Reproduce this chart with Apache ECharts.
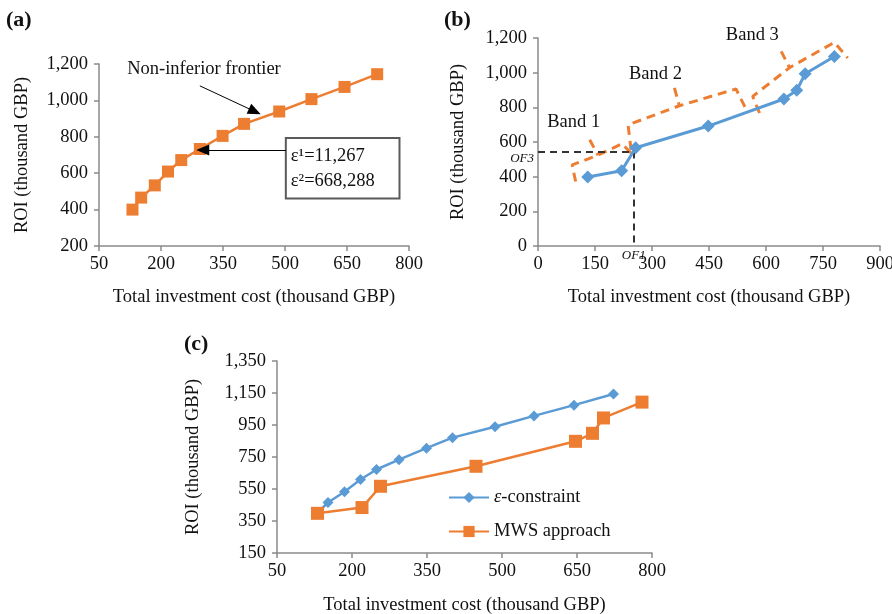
<!DOCTYPE html>
<html><head><meta charset="utf-8">
<script src="https://cdn.jsdelivr.net/npm/echarts@6/dist/echarts.min.js"></script>
<style>html,body{margin:0;padding:0;background:#fff}#c{width:892px;height:614px}</style>
</head><body><div id="c"></div>
<script>
// ---- data (thousand GBP) ----
const epsCost = [131, 152, 185, 217, 249, 294, 349, 401, 486, 564, 644, 723];
const epsROI  = [400, 466, 533, 609, 672, 733, 805, 871, 939, 1007, 1074, 1144];
const mwsCost = [131, 220, 257, 448, 647, 681, 703, 780];
const mwsROI  = [398, 434, 567, 692, 848, 898, 994, 1093];

// axis ticks
const xTicksA = [50, 200, 350, 500, 650, 800];
const yTicksA = [200, 400, 600, 800, 1000, 1200];
const xTicksB = [0, 150, 300, 450, 600, 750, 900];
const yTicksB = [0, 200, 400, 600, 800, 1000, 1200];
const xTicksC = [50, 200, 350, 500, 650, 800];
const yTicksC = [150, 350, 550, 750, 950, 1150, 1350];

// annotations (data coordinates)
const OF1 = 252, OF3 = 545;
const band1 = [[99, 372], [90, 468], [158, 524], [221, 590], [245, 536]];
const band1Notch = [[136, 613], [158, 524]];
const band2 = [[245, 555], [237, 699], [372, 809], [521, 906], [546, 796]];
const band2Notch = [[359, 912], [372, 809]];
const band3 = [[583, 767], [565, 863], [662, 1029], [780, 1175], [815, 1085]];
const band3Notch = [[640, 1123], [662, 1029]];
const bandLabels = ['Band 1', 'Band 2', 'Band 3'];
const bandLabelPos = [[94, 717], [309, 994], [564, 1214]];
const frontierLabel = 'Non-inferior frontier';
const frontierLabelPos = [304, 1173];
const frontierArrow = [[294, 1080], [427, 939]];
const boxTL = [502, 794], boxBR = [777, 461];
const boxArrow = [[502, 728], [301, 728]];
const boxText = ['ε¹=11,267', 'ε²=668,288'];

const F = 'Liberation Serif';
const FS = 18.5;
const ORANGE = '#ED7D31', BLUE = '#5B9BD5', AXIS = '#8a8a8a';
const zip = (a, b) => a.map((v, i) => [v, b[i]]);

function xAxis(gi, min, max, ticks, name, nameGap) {
  return {
    type: 'value', gridIndex: gi, min, max,
    name, nameLocation: 'middle', nameGap,
    nameTextStyle: { fontFamily: F, fontSize: FS, color: '#111' },
    axisLine: { show: true, onZero: false, lineStyle: { color: AXIS, width: 1.5 } },
    axisTick: { show: true, length: 5, customValues: ticks, lineStyle: { color: AXIS, width: 1.5 } },
    axisLabel: { customValues: ticks, margin: 9, fontFamily: F, fontSize: FS, color: '#111' },
    splitLine: { show: false }
  };
}
function yAxis(gi, min, max, ticks, name, nameGap) {
  return {
    type: 'value', gridIndex: gi, min, max,
    name, nameLocation: 'middle', nameGap, nameRotate: 90,
    nameTextStyle: { fontFamily: F, fontSize: FS, color: '#111' },
    axisLine: { show: true, onZero: false, lineStyle: { color: AXIS, width: 1.5 } },
    axisTick: { show: true, length: 5, customValues: ticks, lineStyle: { color: AXIS, width: 1.5 } },
    axisLabel: { customValues: ticks, margin: 11, fontFamily: F, fontSize: FS, color: '#111',
      formatter: v => v.toLocaleString('en-US') },
    splitLine: { show: false }
  };
}
const XN = 'Total investment cost (thousand GBP)', YN = 'ROI (thousand GBP)';
const bandStyle = { color: ORANGE, width: 3, type: [9, 6] };
function bandSeries(pts) {
  return { type: 'line', xAxisIndex: 1, yAxisIndex: 1, data: pts, symbol: 'none', silent: true,
    lineStyle: bandStyle, z: 3 };
}

const chart = echarts.init(document.getElementById('c'));
chart.setOption({
  animation: false,
  title: [
    { text: '(a)', left: 6, top: 9, padding: 0, textStyle: { fontFamily: F, fontSize: 22, fontWeight: 'bold', color: '#111' } },
    { text: '(b)', left: 444, top: 9, padding: 0, textStyle: { fontFamily: F, fontSize: 22, fontWeight: 'bold', color: '#111' } },
    { text: '(c)', left: 184, top: 333, padding: 0, textStyle: { fontFamily: F, fontSize: 22, fontWeight: 'bold', color: '#111' } }
  ],
  grid: [
    { left: 99, top: 64, width: 310, height: 182, outerBoundsMode: 'none' },
    { left: 538, top: 38, width: 342, height: 208, outerBoundsMode: 'none' },
    { left: 277, top: 361, width: 375, height: 192, outerBoundsMode: 'none' }
  ],
  xAxis: [
    xAxis(0, 50, 800, xTicksA, XN, 42),
    xAxis(1, 0, 900, xTicksB, XN, 42),
    xAxis(2, 50, 800, xTicksC, XN, 43)
  ],
  yAxis: [
    yAxis(0, 200, 1200, yTicksA, YN, 67),
    yAxis(1, 0, 1200, yTicksB, YN, 70),
    yAxis(2, 150, 1350, yTicksC, YN, 74)
  ],
  legend: {
    data: ['ε-constraint', 'MWS approach'], orient: 'vertical', left: 443, top: 483,
    itemGap: 15, itemWidth: 40, itemHeight: 14,
    textStyle: { fontFamily: F, fontSize: FS, color: '#111',
      rich: { it: { fontFamily: F, fontSize: FS, fontStyle: 'italic', color: '#111' },
              n: { fontFamily: F, fontSize: FS, color: '#111' } } },
    formatter: name => name === 'ε-constraint' ? '{it|ε}{n|-constraint}' : '{n|' + name + '}'
  },
  series: [
    { name: 'frontier', type: 'line', xAxisIndex: 0, yAxisIndex: 0, data: zip(epsCost, epsROI),
      symbol: 'rect', symbolSize: 12, itemStyle: { color: ORANGE }, lineStyle: { color: ORANGE, width: 2.5 }, z: 5,
      markLine: { silent: true, z: 8, symbol: ['none', 'triangle'], symbolSize: [11, 13],
        lineStyle: { color: '#000', width: 1, type: 'solid' }, label: { show: false },
        data: [
          [{ coord: frontierArrow[0] }, { coord: frontierArrow[1] }],
          [{ coord: boxArrow[0] }, { coord: boxArrow[1] }]
        ] },
      markArea: { silent: true,
        itemStyle: { color: '#fff', opacity: 1, borderColor: '#5a5a5a', borderWidth: 2 },
        label: { show: true, position: 'insideLeft', distance: 6, fontFamily: F, fontSize: FS, color: '#111',
          lineHeight: 25, formatter: boxText.join('\n') },
        data: [[{ coord: boxTL }, { coord: boxBR }]] } },

    bandSeries(band1), bandSeries(band1Notch),
    bandSeries(band2), bandSeries(band2Notch),
    bandSeries(band3), bandSeries(band3Notch),
    { name: 'mwsB', type: 'line', xAxisIndex: 1, yAxisIndex: 1, data: zip(mwsCost, mwsROI),
      symbol: 'diamond', symbolSize: 13, itemStyle: { color: BLUE }, lineStyle: { color: BLUE, width: 3 }, z: 5,
      markLine: { silent: true, symbol: ['none', 'none'],
        lineStyle: { color: '#333', width: 2, type: [7, 5] }, label: { show: false },
        data: [
          [{ coord: [0, OF3] }, { coord: [OF1, OF3] }],
          [{ coord: [OF1, OF3] }, { coord: [OF1, 0] }]
        ] } },

    { name: 'ε-constraint', type: 'line', xAxisIndex: 2, yAxisIndex: 2, data: zip(epsCost, epsROI),
      symbol: 'diamond', symbolSize: 11, itemStyle: { color: BLUE }, lineStyle: { color: BLUE, width: 2.5 }, z: 4 },
    { name: 'MWS approach', type: 'line', xAxisIndex: 2, yAxisIndex: 2, data: zip(mwsCost, mwsROI),
      symbol: 'rect', symbolSize: 13, itemStyle: { color: ORANGE }, lineStyle: { color: ORANGE, width: 2.5 }, z: 5 }
  ]
});

// text annotations placed through the chart's own coordinate system
const px = (gi, p) => chart.convertToPixel({ gridIndex: gi }, p);
const txt = (p, text, size, style, align) => ({
  type: 'text', x: p[0], y: p[1], z: 10,
  style: { text, fontFamily: F, fontSize: size, fontStyle: style || 'normal', fill: '#111',
    align: align || 'center', verticalAlign: 'middle' }
});
const g = [];
g.push(txt(px(0, frontierLabelPos), frontierLabel, FS));
bandLabels.forEach((t, i) => g.push(txt(px(1, bandLabelPos[i]), t, FS)));
const pOF3 = px(1, [0, OF3]);
g.push(txt([pOF3[0] - 4, pOF3[1] + 7], 'OF3', 13, 'italic', 'right'));
const pOF1 = px(1, [OF1, 0]);
g.push(txt([pOF1[0], pOF1[1] + 10], 'OF1', 13, 'italic', 'center'));
chart.setOption({ graphic: g });
</script>
</body></html>
